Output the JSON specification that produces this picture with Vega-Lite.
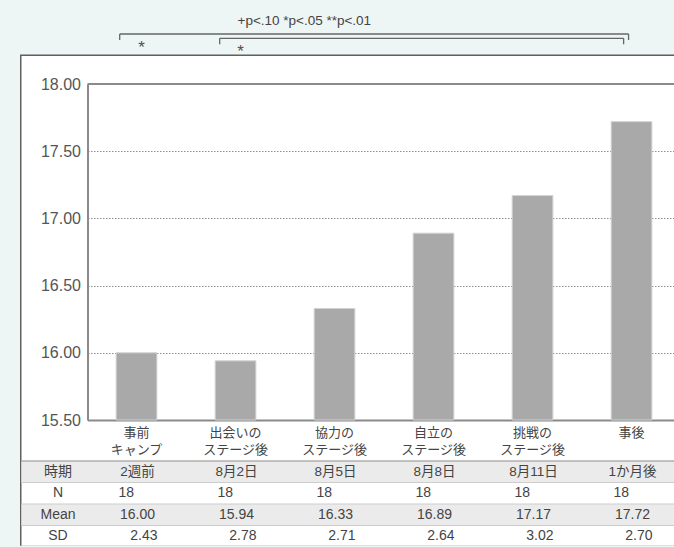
{
  "$schema": "https://vega.github.io/schema/vega-lite/v6.json",
  "background": "#eef5f5",
  "padding": {"left": 19.5, "top": 13, "right": 0, "bottom": 0},
  "autosize": {"type": "pad"},
  "bounds": "flush",
  "spacing": 0,
  "config": {"view": {"stroke": null}, "font": "Liberation Sans"},
  "datasets": {
    "frame": [{}],
    "stages": [
      {"stage": "事前|キャンプ", "period": "2週前", "n": 18, "mean": 16.00, "sd": 2.43},
      {"stage": "出会いの|ステージ後", "period": "8月2日", "n": 18, "mean": 15.94, "sd": 2.78},
      {"stage": "協力の|ステージ後", "period": "8月5日", "n": 18, "mean": 16.33, "sd": 2.71},
      {"stage": "自立の|ステージ後", "period": "8月8日", "n": 18, "mean": 16.89, "sd": 2.64},
      {"stage": "挑戦の|ステージ後", "period": "8月11日", "n": 18, "mean": 17.17, "sd": 3.02},
      {"stage": "事後", "period": "1か月後", "n": 18, "mean": 17.72, "sd": 2.70}
    ],
    "rows": [{"row": "時期"}, {"row": "N"}, {"row": "Mean"}, {"row": "SD"}],
    "pairs": [
      {"from": 0.83, "to": 5.97, "level": 1, "star": 1.05, "sig": "*"},
      {"from": 1.84, "to": 5.92, "level": 2, "star": 2.05, "sig": "*"}
    ]
  },
  "vconcat": [
    {
      "width": 587,
      "height": 56,
      "title": {
        "text": "+p<.10 *p<.05 **p<.01",
        "anchor": "start",
        "frame": "group",
        "dx": 150,
        "dy": 2,
        "offset": 3,
        "fontSize": 13.5,
        "fontWeight": "normal",
        "font": "Liberation Sans",
        "color": "#444444"
      },
      "layer": [
        {
          "data": {"name": "frame"},
          "mark": {"type": "rect", "fill": "#5f5f5f"},
          "encoding": {
            "x": {"datum": -0.177, "type": "quantitative", "scale": {"domain": [0.5047, 6.434], "nice": false, "zero": false}, "axis": null},
            "x2": {"datum": 6.434},
            "y": {"datum": 5.768, "type": "quantitative", "scale": {"domain": [-0.395, 12.628], "reverse": true, "nice": false, "zero": false}, "axis": null},
            "y2": {"datum": 120}
          }
        },
        {
          "data": {"name": "frame"},
          "mark": {"type": "rect", "fill": "#ffffff"},
          "encoding": {
            "x": {"datum": -0.162, "type": "quantitative"},
            "x2": {"datum": 6.434},
            "y": {"datum": 6.117, "type": "quantitative"},
            "y2": {"datum": 120}
          }
        },
        {
          "data": {"name": "pairs"},
          "mark": {"type": "rule", "color": "#666666", "strokeWidth": 1.3},
          "encoding": {
            "x": {"field": "from", "type": "quantitative"},
            "x2": {"field": "to"},
            "y": {"field": "level", "type": "quantitative"}
          }
        },
        {
          "data": {"name": "pairs"},
          "mark": {"type": "rule", "color": "#666666", "strokeWidth": 1.3, "y2Offset": 6},
          "encoding": {
            "x": {"field": "from", "type": "quantitative"},
            "y": {"field": "level", "type": "quantitative"},
            "y2": {"field": "level"}
          }
        },
        {
          "data": {"name": "pairs"},
          "mark": {"type": "rule", "color": "#666666", "strokeWidth": 1.3, "y2Offset": 6},
          "encoding": {
            "x": {"field": "to", "type": "quantitative"},
            "y": {"field": "level", "type": "quantitative"},
            "y2": {"field": "level"}
          }
        },
        {
          "data": {"name": "pairs"},
          "mark": {"type": "text", "fontSize": 17, "color": "#505050", "align": "center", "baseline": "middle", "dy": 14},
          "encoding": {
            "x": {"field": "star", "type": "quantitative"},
            "y": {"field": "level", "type": "quantitative"},
            "text": {"field": "sig"}
          }
        }
      ]
    },
    {
      "width": 587,
      "height": 336,
      "layer": [
        {
          "data": {"name": "stages"},
          "mark": {"type": "bar", "fill": "#a8a9a8", "stroke": "#d2d2d2", "strokeWidth": 1},
          "encoding": {
            "x": {
              "field": "stage",
              "type": "nominal",
              "sort": null,
              "scale": {"type": "band", "paddingInner": 0.589, "paddingOuter": 0.259, "align": 0.559},
              "axis": {
                "title": null,
                "ticks": false,
                "domainColor": "#8a8a8a",
                "domainWidth": 2,
                "labelAngle": 0,
                "labelExpr": "split(datum.label, '|')",
                "labelFont": "Noto Sans CJK JP",
                "labelFontSize": 13,
                "labelColor": "#444444",
                "labelLineHeight": 17,
                "labelPadding": 6
              }
            },
            "y": {
              "field": "mean",
              "type": "quantitative",
              "scale": {"domain": [15.5, 18], "zero": false, "nice": false},
              "axis": {
                "title": null,
                "values": [15.5, 16, 16.5, 17, 17.5, 18],
                "format": ".2f",
                "ticks": false,
                "domainColor": "#8a8a8a",
                "domainWidth": 2,
                "labelFontSize": 16,
                "labelColor": "#555555",
                "labelPadding": 7,
                "grid": true,
                "gridColor": "#8f8f8f",
                "gridWidth": 1,
                "gridDash": [1.5, 1.5]
              }
            },
            "y2": {"datum": 15.5}
          }
        },
        {
          "data": {"name": "frame"},
          "mark": {"type": "rule", "color": "#8a8a8a", "strokeWidth": 1.8},
          "encoding": {"y": {"datum": 18}}
        }
      ]
    },
    {
      "width": 587,
      "height": 127,
      "resolve": {"scale": {"x": "independent"}},
      "layer": [
        {
          "data": {"name": "rows"},
          "transform": [{"filter": "datum.row === '時期' || datum.row === 'Mean'"}],
          "mark": {"type": "rect", "fill": "#ebebeb"},
          "encoding": {
            "x": {"datum": -0.162, "type": "quantitative", "scale": {"domain": [0.5047, 6.434], "nice": false, "zero": false}, "axis": null},
            "x2": {"datum": 6.434},
            "y": {
              "field": "row",
              "type": "nominal",
              "scale": {"domain": ["時期", "N", "Mean", "SD"], "paddingInner": 0, "paddingOuter": 0.953, "align": 1},
              "axis": {
                "orient": "left",
                "title": null,
                "ticks": false,
                "domain": false,
                "labelAlign": "center",
                "labelPadding": 30,
                "labelFont": "Liberation Sans, Noto Sans CJK JP",
                "labelFontSize": 14,
                "labelColor": "#444444",
                "zindex": 1
              }
            }
          }
        },
        {
          "data": {"name": "rows"},
          "mark": {"type": "rule", "strokeWidth": 1.2},
          "encoding": {
            "x": {"datum": -0.162, "type": "quantitative", "scale": {"domain": [0.5047, 6.434], "nice": false, "zero": false}, "axis": null},
            "x2": {"datum": 6.434},
            "y": {"field": "row", "type": "nominal", "bandPosition": 0},
            "color": {"condition": {"test": "datum.row === '時期'", "value": "#8c8c8c"}, "value": "#cdcdcd"}
          }
        },
        {
          "data": {"name": "stages"},
          "mark": {"type": "text", "font": "Liberation Sans, Noto Sans CJK JP", "fontSize": 13.5, "color": "#444444", "align": "center", "baseline": "middle", "dx": 1},
          "encoding": {
            "x": {"field": "stage", "type": "nominal", "sort": null, "scale": {"type": "band", "paddingInner": 0.589, "paddingOuter": 0.259, "align": 0.559}, "axis": null},
            "y": {"datum": "時期", "type": "nominal"},
            "text": {"field": "period"}
          }
        },
        {
          "data": {"name": "stages"},
          "mark": {"type": "text", "fontSize": 14, "color": "#444444", "align": "left", "baseline": "middle", "dx": -18},
          "encoding": {
            "x": {"field": "stage", "type": "nominal", "sort": null, "scale": {"type": "band", "paddingInner": 0.589, "paddingOuter": 0.259, "align": 0.559}, "axis": null},
            "y": {"datum": "N", "type": "nominal"},
            "text": {"field": "n"}
          }
        },
        {
          "data": {"name": "stages"},
          "mark": {"type": "text", "fontSize": 14, "color": "#444444", "align": "center", "baseline": "middle", "dx": 1},
          "encoding": {
            "x": {"field": "stage", "type": "nominal", "sort": null, "scale": {"type": "band", "paddingInner": 0.589, "paddingOuter": 0.259, "align": 0.559}, "axis": null},
            "y": {"datum": "Mean", "type": "nominal"},
            "text": {"field": "mean", "format": ".2f"}
          }
        },
        {
          "data": {"name": "stages"},
          "mark": {"type": "text", "fontSize": 14, "color": "#444444", "align": "right", "baseline": "middle", "dx": 21},
          "encoding": {
            "x": {"field": "stage", "type": "nominal", "sort": null, "scale": {"type": "band", "paddingInner": 0.589, "paddingOuter": 0.259, "align": 0.559}, "axis": null},
            "y": {"datum": "SD", "type": "nominal"},
            "text": {"field": "sd", "format": ".2f"}
          }
        }
      ]
    }
  ]
}
